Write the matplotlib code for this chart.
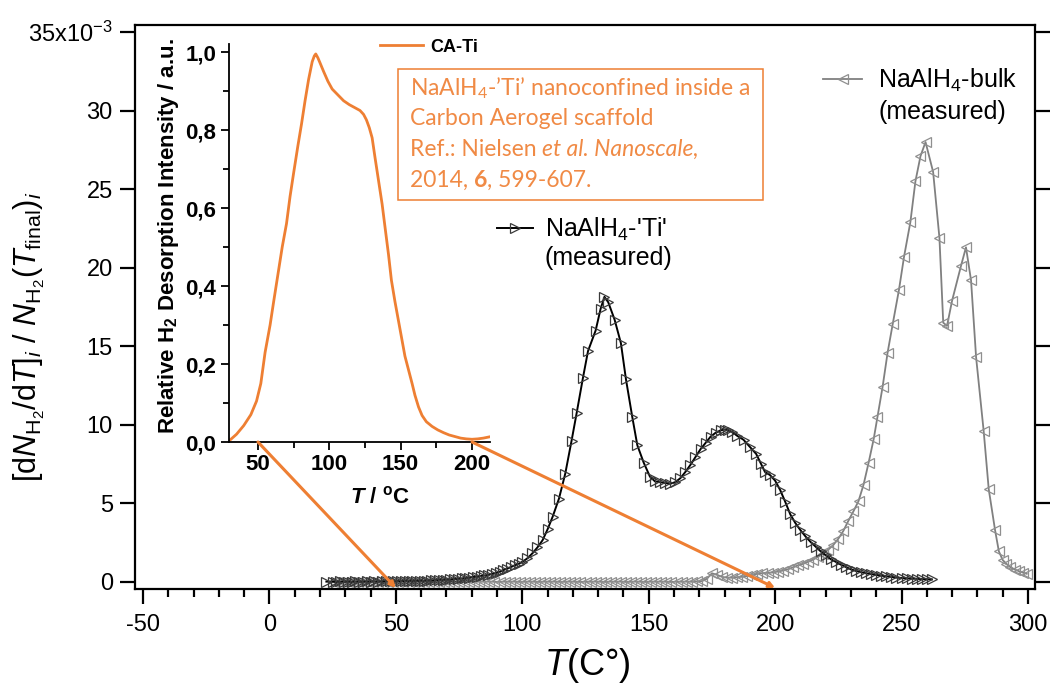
import matplotlib
matplotlib.use("Agg")
import matplotlib.pyplot as plt
from matplotlib.ticker import MultipleLocator, NullLocator, FuncFormatter
from matplotlib.patches import ConnectionPatch, Rectangle
from matplotlib.text import Annotation

plt.rcParams.update({
    "font.family": ["Liberation Sans", "DejaVu Sans"],
    "mathtext.fontset": "custom",
    "mathtext.rm": "Liberation Sans",
    "mathtext.it": "Liberation Sans:italic",
    "mathtext.bf": "Liberation Sans:bold",
    "mathtext.bfit": "Liberation Sans:italic:bold",
    "mathtext.sf": "Liberation Sans",
    "axes.unicode_minus": False,
})

# ---------------- data ----------------
# NaAlH4-'Ti' (measured): temperature (C) and normalised desorption rate (x1e-3)
ti_T = [22.5,
        25, 26.5, 28, 29.5, 31, 32.5, 34, 35.5, 37, 38.5, 40, 41.5, 43, 44.5, 46, 47.5,
        49, 50.5, 52, 53.5, 55, 56.5, 58, 59.5, 61, 62.5, 64, 65.5, 67, 68.5, 70, 71.5,
        73, 74.5, 76, 77.5, 79, 80.5, 82, 83.5, 85, 86.5, 88, 89.5, 91, 92.5, 94, 95.5,
        97, 98.5, 100, 102, 104, 106, 108, 110, 112, 114.5, 117, 119.5, 121.5, 124, 126,
        129, 131, 132.5, 134, 136.5, 139, 141, 143.5, 145.5, 148, 150.5, 152.5, 154.5,
        156.5, 158.5, 160.5, 162.5, 164.5, 166.5, 168.5, 170.5, 172.5, 174.5, 176.5,
        178.5, 180, 181.5, 183, 185, 187.5, 190, 192.5, 194.5, 196, 198, 200, 202, 204,
        206, 208, 210, 212, 214, 216, 218, 220, 222, 224, 226, 228, 230, 232, 234, 236,
        238, 240, 242, 244, 246, 248, 250, 252, 254, 256, 258, 260, 262]
ti_rate = [0.02,
           0.02, 0.00, 0.03, 0.01, 0.02, 0.00, 0.03, 0.02, 0.01, 0.03, 0.02, 0.04, 0.02,
           0.03, 0.05, 0.03, 0.04, 0.05, 0.04, 0.06, 0.05, 0.07, 0.06, 0.08, 0.07, 0.09,
           0.10, 0.10, 0.12, 0.13, 0.14, 0.16, 0.18, 0.20, 0.22, 0.25, 0.28, 0.31, 0.34,
           0.37, 0.41, 0.45, 0.50, 0.55, 0.65, 0.75, 0.85, 0.95, 1.05, 1.15, 1.28, 1.50,
           1.82, 2.20, 2.65, 3.35, 4.15, 5.30, 6.90, 9.00, 10.75, 13.00, 14.70, 16.00,
           17.40, 18.15, 17.80, 16.70, 15.20, 12.90, 10.50, 8.70, 7.60, 6.70, 6.40, 6.35,
           6.30, 6.25, 6.35, 6.60, 7.00, 7.45, 7.95, 8.45, 8.85, 9.25, 9.50, 9.65, 9.70,
           9.65, 9.55, 9.30, 9.05, 8.60, 8.15, 7.50, 7.00, 6.80, 6.45, 5.85, 5.10, 4.30,
           3.75, 3.30, 2.90, 2.55, 2.25, 1.95, 1.70, 1.45, 1.28, 1.10, 0.95, 0.80, 0.70,
           0.62, 0.55, 0.50, 0.45, 0.40, 0.36, 0.32, 0.28, 0.25, 0.23, 0.21, 0.20, 0.18,
           0.17, 0.16]

# NaAlH4-bulk (measured)
bulk_T = [25, 27, 29, 31, 33, 35, 37, 39, 41, 43, 45, 47, 49, 51, 53, 55, 57, 59, 61,
          63, 65, 67, 69, 71, 73, 75, 77, 79, 81, 83, 85, 87, 89, 91, 93, 95, 97, 99,
          101, 103, 105, 107, 109, 111, 113, 115, 117, 119, 121, 123, 125, 127, 129,
          131, 133, 135, 137, 139, 141, 143, 145, 147, 149, 151, 153, 155, 157, 159,
          161, 163, 165, 167, 169, 171, 173, 175, 177, 179, 181, 183, 185, 187, 189,
          191, 193, 195, 197, 199, 201, 203, 205, 207, 209, 211, 213, 215, 217, 219,
          221, 223, 225, 227, 229, 231, 233, 235, 237, 239, 240.5, 242.5, 244.5, 246.5,
          249, 251, 253.5, 255.5, 257.5, 259.5, 262.5, 265, 266.5, 268, 270, 273.5,
          275.5, 277.5, 279.5, 282.5, 284.5, 287, 288.5, 290, 291.5, 293, 295, 296.5,
          298, 299.5]
bulk_rate = [0.00, 0.01, 0.00, 0.02, 0.01, 0.00, 0.01, 0.02, 0.00, 0.01, 0.02, 0.01,
             0.00, 0.02, 0.01, 0.02, 0.00, 0.01, 0.02, 0.01, 0.00, 0.02, 0.01, 0.02,
             0.00, 0.01, 0.02, 0.01, 0.00, 0.02, 0.01, 0.02, 0.01, 0.00, 0.02, 0.01,
             0.02, 0.00, 0.01, 0.02, 0.01, 0.00, 0.02, 0.01, 0.02, 0.00, 0.01, 0.02,
             0.01, 0.00, 0.02, 0.01, 0.02, 0.01, 0.00, 0.02, 0.01, 0.02, 0.00, 0.01,
             0.02, 0.01, 0.00, 0.02, 0.01, 0.02, 0.01, 0.00, 0.02, 0.01, 0.02, 0.01,
             0.03, 0.05, 0.20, 0.55, 0.45, 0.32, 0.27, 0.27, 0.30, 0.33, 0.38, 0.45,
             0.52, 0.56, 0.58, 0.60, 0.66, 0.72, 0.80, 0.92, 1.05, 1.15, 1.28, 1.42,
             1.60, 1.80, 2.05, 2.35, 2.75, 3.25, 3.90, 4.50, 5.15, 6.20, 7.60, 9.10,
             10.50, 12.40, 14.60, 16.40, 18.60, 20.70, 22.90, 25.50, 27.10, 28.00,
             26.10, 21.90, 16.50, 16.30, 17.90, 20.10, 21.30, 19.20, 14.30, 9.60, 5.90,
             3.30, 1.95, 1.40, 1.15, 0.95, 0.78, 0.68, 0.60, 0.52]

# CA-Ti (nanoconfined, inset): temperature (C) and relative H2 desorption intensity
ca_T = [30.4, 35, 40, 45, 49, 52, 55, 58.5, 61, 64, 67, 70, 72.5, 75, 78, 80.5, 83,
        85.5, 88, 89.5, 90.5, 92, 93.5, 96, 99, 102, 106, 110, 114, 118, 121.5, 124,
        126, 128, 130, 132, 134.5, 137, 139, 141.5, 143.5, 146, 148.5, 151, 153,
        155.5, 158, 160, 162.5, 165, 168, 172, 176, 180, 184, 188, 192, 196, 200,
        204, 208, 212]
ca_int = [0.005, 0.020, 0.042, 0.070, 0.105, 0.150, 0.230, 0.300, 0.360, 0.430,
          0.500, 0.560, 0.630, 0.690, 0.760, 0.815, 0.875, 0.930, 0.975, 0.990,
          0.995, 0.985, 0.972, 0.950, 0.925, 0.905, 0.890, 0.875, 0.865, 0.857,
          0.850, 0.840, 0.826, 0.806, 0.780, 0.730, 0.670, 0.610, 0.552, 0.480,
          0.415, 0.360, 0.310, 0.260, 0.220, 0.185, 0.150, 0.120, 0.090, 0.068,
          0.052, 0.040, 0.031, 0.024, 0.018, 0.014, 0.010, 0.008, 0.007, 0.008,
          0.010, 0.013]

# temperatures linking the inset axis to the main axis
link_T = [50, 200]

x_ticks = [-50, 0, 50, 100, 150, 200, 250, 300]
inset_x_ticks = [50, 100, 150, 200]
inset_y_ticks = [0.0, 0.2, 0.4, 0.6, 0.8, 1.0]

ORANGE = "#EE7F33"
ORANGE_TXT = "#F08A45"

# ---------------- figure ----------------
W, H = 1052, 686
fig = plt.figure(figsize=(W / 100, H / 100), dpi=100)


def fx(px):
    return px / W


def fy(py):
    return 1 - py / H


ax = fig.add_axes([fx(135), fy(589), fx(1035) - fx(135), fy(25) - fy(589)])
ax.set_xlim(-53.2, 302.8)
ax.set_ylim(-0.45, 35.45)

bulk_line, = ax.plot(bulk_T, bulk_rate, color="#808080", lw=1.3, marker="<", ms=7,
                     mfc="none", mec="#8f8f8f", mew=0.9, zorder=3)
ti_line, = ax.plot(ti_T, ti_rate, color="black", lw=1.4, marker=">", ms=7,
                   mfc="none", mec="#3a3a3a", mew=0.9, zorder=4)

for s in ax.spines.values():
    s.set_linewidth(1.6)

ax.set_xticks(x_ticks)
ax.xaxis.set_minor_locator(MultipleLocator(10))
ax.yaxis.set_major_locator(MultipleLocator(5))
ax.yaxis.set_minor_locator(NullLocator())
ax.tick_params(axis="x", which="major", direction="out", length=11, width=1.6,
               labelsize=17, pad=7, top=False)
ax.tick_params(axis="x", which="minor", direction="out", length=6, width=1.6, top=False)
ax.tick_params(axis="y", which="major", direction="out", length=11, width=1.6,
               labelsize=17, pad=5, left=True, right=True)


def ytick_fmt(v, pos):
    if abs(v - 35) < 1e-6:
        return r"35x10$^{\mathregular{-3}}$"
    return f"{v:g}"


ax.yaxis.set_major_formatter(FuncFormatter(ytick_fmt))

ax.set_ylabel(r"[d$\mathit{N}_{\mathregular{H_2}}$/d$\mathit{T}$]$_\mathit{i}$ / "
              r"$\mathit{N}_{\mathregular{H_2}}$($\mathit{T}_{\mathregular{final}}$)$_\mathit{i}$",
              fontsize=22)
ax.yaxis.set_label_coords((47 - 135) / 900, 0.447)
ax.set_xlabel(r"$\mathit{T}$(C°)", fontsize=26, va="top")
ax.xaxis.set_label_coords((587 - 135) / 900, (589 - 646) / 564)

# legends for the measured curves
leg_ti = ax.legend(handles=[ti_line], labels=[r"NaAlH$_\mathregular{4}$-'Ti'"],
                   loc="center left", bbox_to_anchor=((497 - 135) / 900, (589 - 229) / 564),
                   frameon=False, fontsize=18, handlelength=1.44, handletextpad=0.48,
                   borderpad=0, borderaxespad=0, numpoints=1)
ax.add_artist(leg_ti)
ax.text((545 - 135) / 900, (589 - 258) / 564, "(measured)", transform=ax.transAxes,
        fontsize=18, va="center", ha="left")

leg_bulk = ax.legend(handles=[bulk_line], labels=[r"NaAlH$_\mathregular{4}$-bulk"],
                     loc="center left", bbox_to_anchor=((823 - 135) / 900, (589 - 80) / 564),
                     frameon=False, fontsize=18, handlelength=1.56, handletextpad=0.64,
                     borderpad=0, borderaxespad=0, numpoints=1)
ax.text((878 - 135) / 900, (589 - 112) / 564, "(measured)", transform=ax.transAxes,
        fontsize=18, va="center", ha="left")

# ---------------- inset ----------------
ins = fig.add_axes([fx(229), fy(442), fx(490) - fx(229), fy(44.2) - fy(442)])
ins.set_xlim(29.7, 212.6)
ins.set_ylim(0, 1.02)
ca_line, = ins.plot(ca_T, ca_int, color=ORANGE, lw=2.0)
ins.spines["top"].set_visible(False)
ins.spines["right"].set_visible(False)
for s in ("left", "bottom"):
    ins.spines[s].set_linewidth(1.3)
ins.set_xticks(inset_x_ticks)
ins.set_yticks(inset_y_ticks)
ins.xaxis.set_minor_locator(MultipleLocator(25))
ins.yaxis.set_minor_locator(MultipleLocator(0.1))
ins.tick_params(which="major", direction="out", length=6, width=1.3, labelsize=16, pad=3)
ins.tick_params(which="minor", direction="out", length=4, width=1.3)
for lab in ins.get_xticklabels() + ins.get_yticklabels():
    lab.set_fontweight("bold")
ins.yaxis.set_major_formatter(FuncFormatter(lambda v, p: f"{v:.1f}".replace(".", ",")))
ins.set_ylabel(r"Relative H$_\mathregular{2}$ Desorption Intensity / a.u.",
               fontsize=16, fontweight="bold")
ins.yaxis.set_label_coords((181 - 229) / 261, (442 - 236) / 397.8)
ins.set_xlabel(r"$\mathbfit{T}$ / $^\mathregular{o}$C", fontsize=16, fontweight="bold",
               va="top")
ins.xaxis.set_label_coords((380 - 229) / 261, (442 - 486) / 397.8)
ins.legend(handles=[ca_line], labels=["CA-Ti"], loc="center left",
           bbox_to_anchor=((380 - 229) / 261, (442 - 47) / 397.8), frameon=False,
           prop={"weight": "bold", "size": 13}, handlelength=2.4, handletextpad=0.4,
           borderpad=0, borderaxespad=0)

# lines linking the inset temperature axis to the main axis
for t in link_T:
    cp = ConnectionPatch(xyA=(t, 0), coordsA="data", axesA=ins,
                         xyB=(t, -0.38), coordsB="data", axesB=ax,
                         color=ORANGE, lw=2.2, arrowstyle="-|>", mutation_scale=8,
                         zorder=10)
    fig.add_artist(cp)

# ---------------- annotation box ----------------
box = Rectangle((fx(398), fy(200)), fx(763) - fx(398), fy(69) - fy(200),
                transform=fig.transFigure, facecolor="white", edgecolor=ORANGE,
                lw=1.1, zorder=20)
fig.add_artist(box)

tkw = dict(fontfamily="Lato", fontsize=16.5, color=ORANGE_TXT, zorder=21)
x0 = fx(410)
fig.text(x0, fy(95), r"NaAlH$_\mathregular{4}$-’Ti’ nanoconfined inside a",
         va="baseline", **tkw)
fig.text(x0, fy(125), "Carbon Aerogel scaffold", va="baseline", **tkw)


def follow(prev, s, **kw):
    """Place a text run directly after the previous one on the same line."""
    a = Annotation(s, xy=(1, 0), xycoords=prev, va="bottom", ha="left",
                   annotation_clip=False, **tkw, **kw)
    fig.add_artist(a)
    return a


t3 = fig.text(x0, fy(156), "Ref.: Nielsen ", va="baseline", **tkw)
follow(t3, "et al. Nanoscale,", style="italic")
t4 = fig.text(x0, fy(187), "2014, ", va="baseline", **tkw)
t5 = follow(t4, "6", fontweight="bold")
follow(t5, ", 599-607.")

fig.savefig("out.png", dpi=100)
